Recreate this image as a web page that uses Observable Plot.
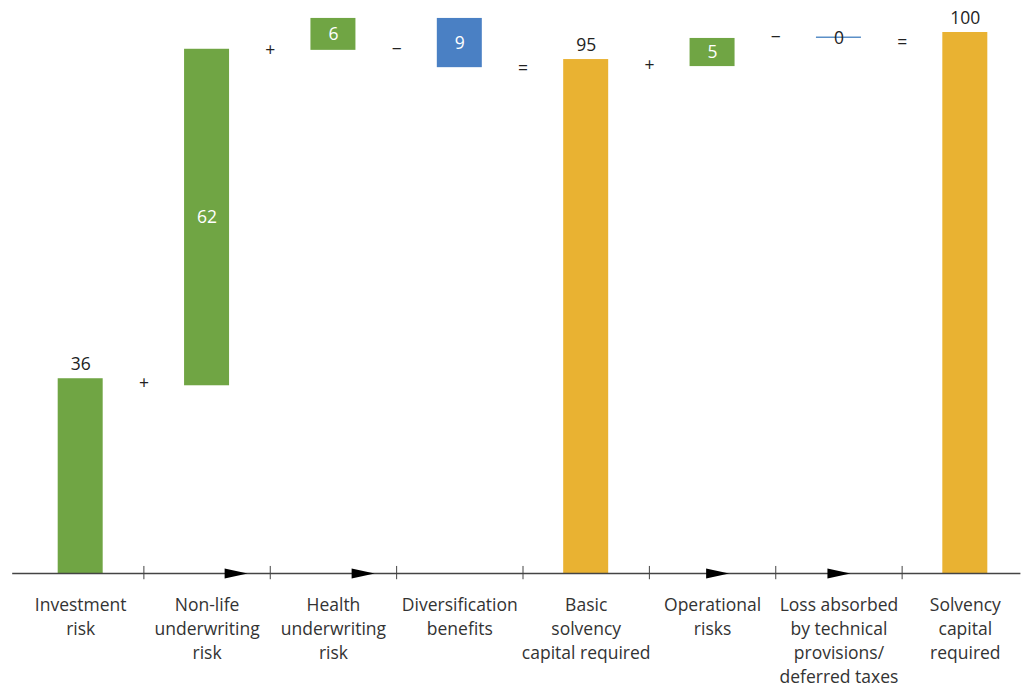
<!DOCTYPE html>
<html>
<head>
<meta charset="utf-8">
<script src="https://cdn.jsdelivr.net/npm/d3@7"></script>
<script src="https://cdn.jsdelivr.net/npm/@observablehq/plot@0.6"></script>
<style>
  html, body { margin: 0; padding: 0; background: #fff; overflow: hidden; }
  #chart svg { display: block; }
</style>
</head>
<body>
<div id="chart"></div>
<script>
// Categories (x-axis labels)
const categories = [
  "Investment\nrisk",
  "Non-life\nunderwriting\nrisk",
  "Health\nunderwriting\nrisk",
  "Diversification\nbenefits",
  "Basic\nsolvency\ncapital required",
  "Operational\nrisks",
  "Loss absorbed\nby technical\nprovisions/\ndeferred taxes",
  "Solvency\ncapital\nrequired"
];
// Bar start / end values
const barStart = [0, 34.7, 96.7, 102.6, 0, 93.7, 99.1, 0];
const barEnd   = [36, 96.9, 102.6, 93.5, 95, 98.9, 99.1, 100];
// Displayed value labels
const valueLabels = ["36", "62", "6", "9", "95", "5", "0", "100"];
// Label placement: "above", "inside", "on"
const labelPos = ["above", "inside", "inside", "inside", "above", "inside", "on", "above"];
// Bar kind -> color group
const barKind = ["add", "add", "add", "sub", "total", "add", "sub0", "total"];
// Operators between bars
const operators = ["+", "+", "\u2212", "=", "+", "\u2212", "="];
const operatorY = [35.1, 96.7, 96.9, 93.3, 93.9, 99.1, 98.2];
// Arrow markers on the axis (x positions in category units)
const arrowX = [1.23, 2.235, 5.04, 6.0];

const colors = { add: "#70a544", sub: "#4a80c4", total: "#e9b232", sub0: "#5b8fc7" };

const bars = categories.map((c, i) => ({
  i, label: c, start: barStart[i], end: barEnd[i],
  lo: Math.min(barStart[i], barEnd[i]), hi: Math.max(barStart[i], barEnd[i]),
  value: valueLabels[i], pos: labelPos[i], kind: barKind[i]
}));
const rectBars = bars.filter(d => d.hi - d.lo > 0.01);
const lineBars = bars.filter(d => d.hi - d.lo <= 0.01);
const ops = operators.map((o, k) => ({ x: k + 0.5, y: operatorY[k], t: o }));
const tickPos = d3.range(7).map(k => k + 0.5);

const halfW = 0.178;
const font = "'Open Sans', 'Noto Sans', sans-serif";
const fs = 17.5;

const arrowSymbol = {
  draw(context, size) {
    context.moveTo(-11.5, -5);
    context.lineTo(11.5, 0);
    context.lineTo(-11.5, 5);
    context.closePath();
  }
};

const chart = Plot.plot({
  width: 1023,
  height: 686,
  marginTop: 32,
  marginBottom: 113,
  marginLeft: 0,
  marginRight: 0,
  style: { fontFamily: font, overflow: "visible" },
  x: { type: "linear", domain: [-0.5, 7.5], range: [17, 1028], axis: null },
  y: { domain: [0, 100], axis: null },
  marks: [
    Plot.rect(rectBars, {
      x1: d => d.i - halfW, x2: d => d.i + halfW,
      y1: "lo", y2: "hi",
      fill: d => colors[d.kind]
    }),
    Plot.ruleY(lineBars, {
      x1: d => d.i - halfW, x2: d => d.i + halfW,
      y: "hi", stroke: d => colors[d.kind], strokeWidth: 1.5
    }),
    // axis line
    Plot.ruleY([0], { x1: -0.538, x2: 7.44, stroke: "#444", strokeWidth: 1.5 }),
    // ticks at band boundaries
    Plot.ruleX(tickPos, { x: d => d, y1: -1.15, y2: 1.3, stroke: "#444", strokeWidth: 1 }),
    // arrows
    Plot.dot(arrowX, { x: d => d, y: 0, symbol: arrowSymbol, fill: "#000", stroke: null, r: 5 }),
    // value labels above
    Plot.text(bars.filter(d => d.pos === "above"), {
      x: "i", y: "hi", text: "value", dy: -14, fontSize: fs, fill: "#222"
    }),
    // value labels inside
    Plot.text(bars.filter(d => d.pos === "inside"), {
      x: "i", y: d => (d.lo + d.hi) / 2, text: "value", fontSize: fs, fill: "#fff"
    }),
    // value labels on the line
    Plot.text(bars.filter(d => d.pos === "on"), {
      x: "i", y: "hi", text: "value", fontSize: fs, fill: "#222", dy: 1
    }),
    // operators
    Plot.text(ops, { x: "x", y: "y", text: "t", fontSize: fs, fill: "#222" }),
    // category labels
    Plot.text(bars, {
      x: "i", y: 0, text: "label", dy: 20.5, lineAnchor: "top",
      lineHeight: 24 / fs, fontSize: fs, fill: "#333"
    })
  ]
});
document.getElementById("chart").appendChild(chart);
</script>
</body>
</html>
